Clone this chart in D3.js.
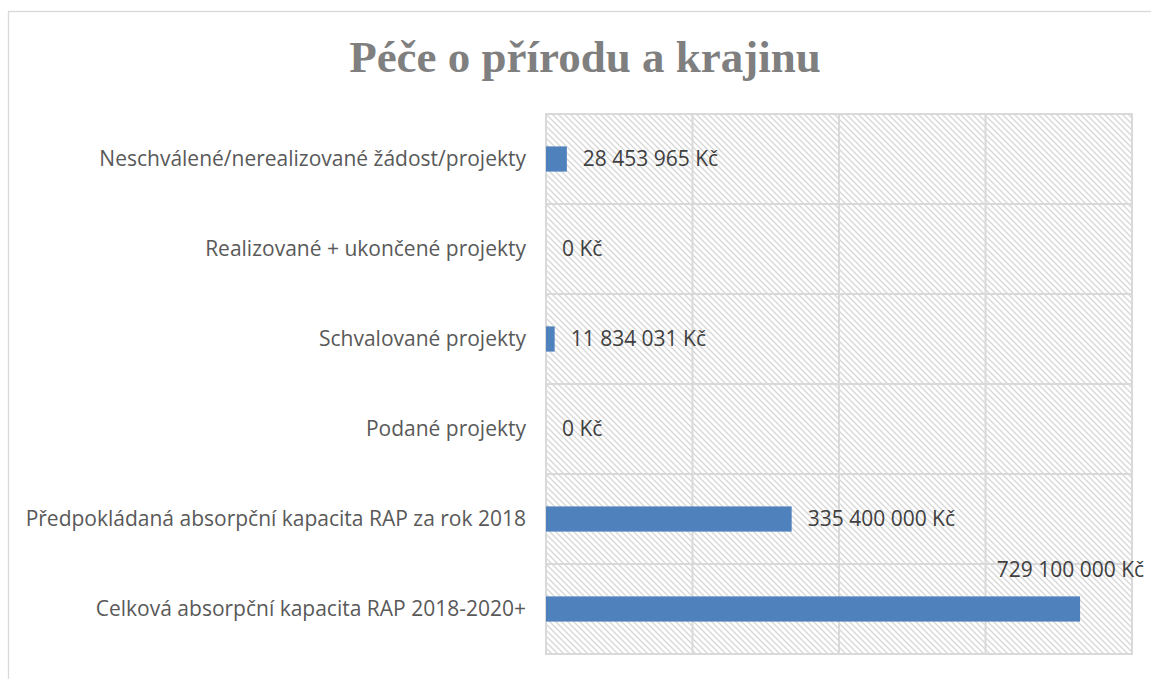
<!DOCTYPE html>
<html>
<head>
<meta charset="utf-8">
<script src="https://cdn.jsdelivr.net/npm/d3@7"></script>
<style>
	body { margin: 0; background: #fff; }
	svg { display: block; }
</style>
</head>
<body>
<svg id="chart"></svg>
<script>
	'use strict';
	// chart data
	var chartTitle = 'Péče o přírodu a krajinu';
	var categories = [
		'Neschválené/nerealizované žádost/projekty',
		'Realizované + ukončené projekty',
		'Schvalované projekty',
		'Podané projekty',
		'Předpokládaná absorpční kapacita RAP za rok 2018',
		'Celková absorpční kapacita RAP 2018-2020+'
	];
	var values = [28453965, 0, 11834031, 0, 335400000, 729100000];
	var xTicks = [0, 200000000, 400000000, 600000000, 800000000];

	var width = 1151, height = 679;
	var margin = {top: 114, right: 19, bottom: 25, left: 546};

	var locale = d3.formatLocale({decimal: ',', thousands: '\u00a0', grouping: [3], currency: ['', '\u00a0Kč']});
	var fmt = locale.format('$,.0f');

	var svg = d3.select('#chart')
		.attr('width', width)
		.attr('height', height);

	// hatch pattern for plot background
	var defs = svg.append('defs');
	var pat = defs.append('pattern')
		.attr('id', 'hatch')
		.attr('patternUnits', 'userSpaceOnUse')
		.attr('width', 6)
		.attr('height', 6);
	pat.append('path')
		.attr('d', 'M-1,-1 L7,7 M-1,5 L1,7 M5,-1 L7,1')
		.attr('stroke', '#d6d6d6')
		.attr('stroke-width', 1.3);

	// chart area border
	svg.append('rect')
		.attr('x', 8.5)
		.attr('y', 11.5)
		.attr('width', width + 20)
		.attr('height', height + 20)
		.attr('fill', '#fff')
		.attr('stroke', '#d9d9d9')
		.attr('stroke-width', 1.3);

	svg.append('text')
		.attr('x', 585)
		.attr('y', 72)
		.attr('text-anchor', 'middle')
		.attr('font-family', '"Liberation Serif", serif')
		.attr('font-weight', 'bold')
		.attr('font-size', 45)
		.attr('fill', '#7f7f7f')
		.text(chartTitle);

	var x = d3.scaleLinear()
		.domain([0, 800000000])
		.range([margin.left, width - margin.right]);

	var y = d3.scaleBand()
		.domain(categories)
		.range([margin.top, height - margin.bottom])
		.paddingInner(0.72)
		.paddingOuter(0.36);

	var step = y.step();

	svg.append('rect')
		.attr('x', x(0))
		.attr('y', margin.top)
		.attr('width', x(800000000) - x(0))
		.attr('height', height - margin.bottom - margin.top)
		.attr('fill', 'url(#hatch)');

	var grid = svg.append('g')
		.attr('stroke', '#d9d9d9')
		.attr('stroke-width', 2);

	grid.selectAll('line.v')
		.data(xTicks)
		.enter().append('line')
		.attr('class', 'v')
		.attr('x1', function (d) { return x(d); })
		.attr('x2', function (d) { return x(d); })
		.attr('y1', margin.top)
		.attr('y2', height - margin.bottom);

	// category boundaries
	var boundaries = categories.map(function (c) {
		return y(c) + y.bandwidth() / 2 - step / 2;
	});
	boundaries.push(height - margin.bottom);

	grid.selectAll('line.h')
		.data(boundaries)
		.enter().append('line')
		.attr('class', 'h')
		.attr('x1', x(0) - 1)
		.attr('x2', x(800000000) + 1)
		.attr('y1', function (d) { return d; })
		.attr('y2', function (d) { return d; });

	// bars
	svg.selectAll('rect.bar')
		.data(values)
		.enter().append('rect')
		.attr('class', 'bar')
		.attr('x', x(0))
		.attr('y', function (d, i) { return y(categories[i]); })
		.attr('width', function (d) { return x(d) - x(0); })
		.attr('height', y.bandwidth())
		.attr('fill', '#4f81bd');

	// category labels
	svg.selectAll('text.cat')
		.data(categories)
		.enter().append('text')
		.attr('class', 'cat')
		.attr('x', x(0) - 20)
		.attr('y', function (d) { return y(d) + y.bandwidth() / 2; })
		.attr('dy', '0.35em')
		.attr('text-anchor', 'end')
		.attr('font-family', '"Open Sans", sans-serif')
		.attr('font-size', 21)
		.attr('fill', '#595959')
		.text(function (d) { return d; });

	// value labels
	svg.selectAll('text.val')
		.data(values)
		.enter().append('text')
		.attr('class', 'val')
		.attr('x', function (d) {
			return d > 600000000 ? x(d) + 64 : x(d) + 16;
		})
		.attr('y', function (d, i) {
			var c = y(categories[i]) + y.bandwidth() / 2;
			return d > 600000000 ? c - 39 : c;
		})
		.attr('dy', '0.35em')
		.attr('text-anchor', function (d) { return d > 600000000 ? 'end' : 'start'; })
		.attr('font-family', '"Open Sans", sans-serif')
		.attr('font-size', 21)
		.attr('fill', '#404040')
		.text(function (d) { return fmt(d); });
</script>
</body>
</html>
